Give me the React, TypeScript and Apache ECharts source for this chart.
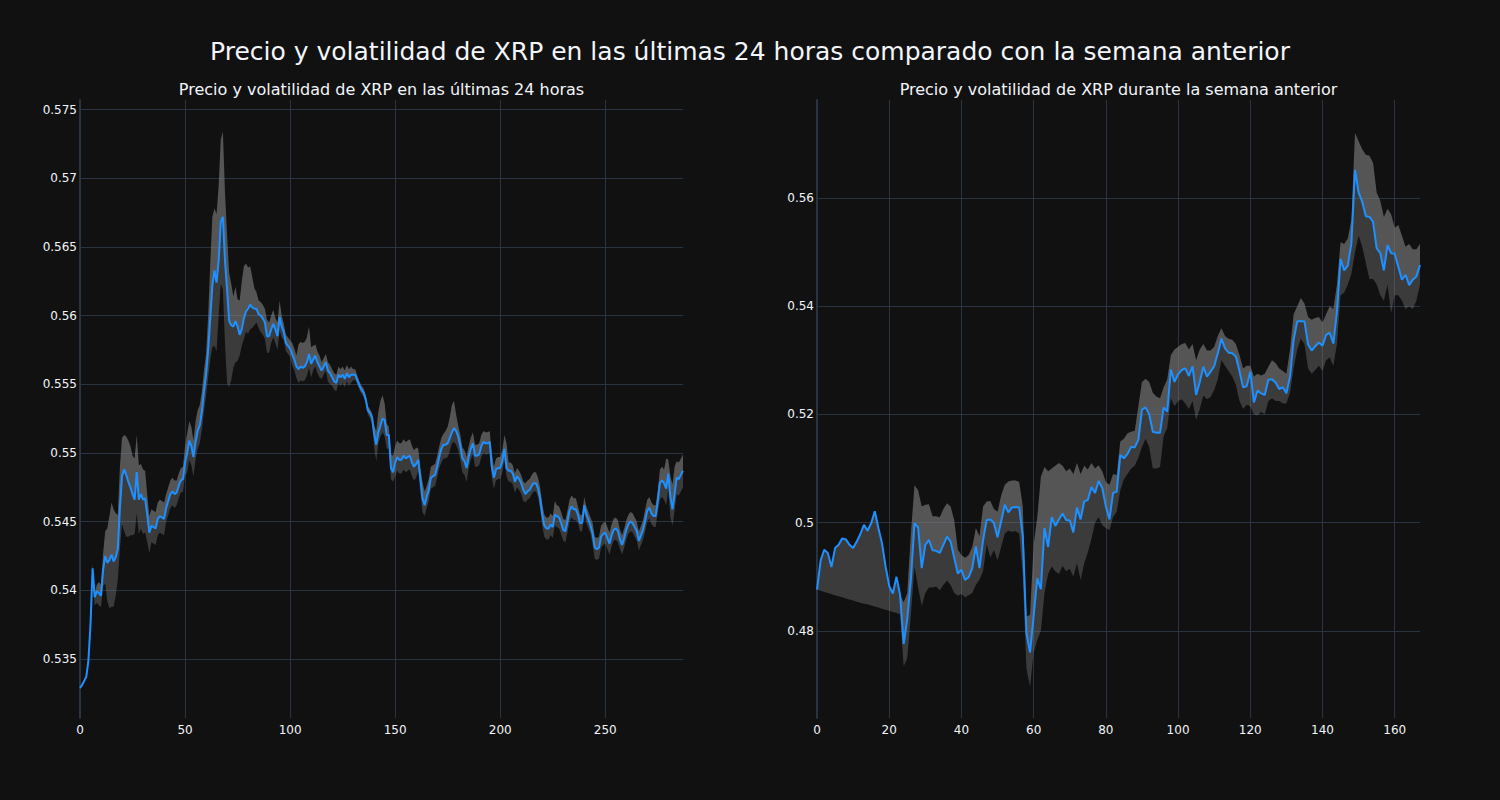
import React, { useEffect, useRef } from "react";
import * as echarts from "echarts";

const mainTitle = "Precio y volatilidad de XRP en las últimas 24 horas comparado con la semana anterior";
const leftTitle = "Precio y volatilidad de XRP en las últimas 24 horas";
const rightTitle = "Precio y volatilidad de XRP durante la semana anterior";

// Left panel: 5-minute prices (last 24 h)
const leftPrice = [
  0.5329, 0.5331, 0.5334, 0.5337, 0.5349, 0.5375, 0.5416, 0.5395, 0.5399, 0.5398,
  0.5396, 0.5415, 0.5425, 0.5420, 0.5422, 0.5426, 0.5421, 0.5424, 0.5430, 0.5460,
  0.5483, 0.5488, 0.5484, 0.5479, 0.5475, 0.5470, 0.5466, 0.5486, 0.5466, 0.5470,
  0.5466, 0.5467, 0.5455, 0.5442, 0.5447, 0.5446, 0.5445, 0.5452, 0.5454, 0.5453,
  0.5452, 0.5460, 0.5465, 0.5470, 0.5472, 0.5470, 0.5471, 0.5476, 0.5480, 0.5481,
  0.5493, 0.5500, 0.5509, 0.5505, 0.5497, 0.5508, 0.5516, 0.5520, 0.5530, 0.5545,
  0.5557, 0.5575, 0.5598, 0.5622, 0.5633, 0.5624, 0.5640, 0.5668, 0.5672, 0.5640,
  0.5619, 0.5596, 0.5593, 0.5592, 0.5596, 0.5592, 0.5586, 0.5590, 0.5598, 0.5603,
  0.5605, 0.5608, 0.5606, 0.5605, 0.5605, 0.5601, 0.5600, 0.5598, 0.5595, 0.5585,
  0.5585, 0.5590, 0.5594, 0.5590, 0.5585, 0.5599, 0.5592, 0.5588, 0.5580, 0.5578,
  0.5576, 0.5572, 0.5568, 0.5563, 0.5561, 0.5563, 0.5562, 0.5563, 0.5566, 0.5572,
  0.5565, 0.5568, 0.5571, 0.5566, 0.5563, 0.5560, 0.5563, 0.5566, 0.5560, 0.5558,
  0.5555, 0.5552, 0.5551, 0.5557, 0.5555, 0.5557, 0.5554, 0.5558, 0.5555, 0.5557,
  0.5557, 0.5557, 0.5553, 0.5549, 0.5546, 0.5544, 0.5539, 0.5531, 0.5529, 0.5526,
  0.5514, 0.5506, 0.5515, 0.5520, 0.5525, 0.5524, 0.5513, 0.5513, 0.5489, 0.5486,
  0.5493, 0.5497, 0.5495, 0.5495, 0.5498, 0.5496, 0.5497, 0.5498, 0.5493, 0.5490,
  0.5492, 0.5495, 0.5481, 0.5467, 0.5462, 0.5468, 0.5473, 0.5482, 0.5483, 0.5484,
  0.5490, 0.5497, 0.5503, 0.5506, 0.5506, 0.5507, 0.5511, 0.5515, 0.5518, 0.5516,
  0.5512, 0.5505, 0.5496, 0.5494, 0.5489, 0.5497, 0.5503, 0.5507, 0.5498, 0.5498,
  0.5499, 0.5505, 0.5508, 0.5507, 0.5507, 0.5508, 0.5490, 0.5482, 0.5488, 0.5489,
  0.5489, 0.5494, 0.5503, 0.5489, 0.5487, 0.5487, 0.5485, 0.5479, 0.5483, 0.5481,
  0.5478, 0.5473, 0.5470, 0.5472, 0.5473, 0.5476, 0.5478, 0.5478, 0.5474, 0.5467,
  0.5455, 0.5447, 0.5445, 0.5445, 0.5448, 0.5446, 0.5455, 0.5454, 0.5453, 0.5449,
  0.5444, 0.5443, 0.5450, 0.5458, 0.5461, 0.5459, 0.5459, 0.5455, 0.5449, 0.5449,
  0.5462, 0.5455, 0.5451, 0.5447, 0.5441, 0.5431, 0.5430, 0.5431, 0.5439, 0.5441,
  0.5442, 0.5438, 0.5434, 0.5440, 0.5444, 0.5445, 0.5443, 0.5437, 0.5433, 0.5438,
  0.5444, 0.5448, 0.5450, 0.5449, 0.5446, 0.5443, 0.5436, 0.5440, 0.5444, 0.5451,
  0.5458, 0.5460, 0.5456, 0.5454, 0.5454, 0.5465, 0.5478, 0.5480, 0.5478, 0.5474,
  0.5485, 0.5468, 0.5459, 0.5470, 0.5482, 0.5481, 0.5484, 0.5487,
];

// Left panel: volatility band above / below the price (units of 0.0001)
const leftBandUp = [
  1, 1, 1, 1, 2, 3, 3, 3, 5, 8,
  8, 12, 18, 25, 32, 38, 38, 32, 25, 30,
  28, 25, 28, 30, 30, 28, 30, 27, 25, 22,
  22, 20, 15, 12, 12, 12, 12, 12, 12, 12,
  12, 10, 10, 10, 10, 10, 9, 9, 9, 9,
  12, 14, 14, 14, 12, 15, 15, 15, 15, 15,
  15, 25, 40, 50, 45, 50, 55, 60, 62, 50,
  40, 35, 30, 22, 25, 20, 25, 35, 38, 35,
  30, 28, 22, 15, 12, 10, 10, 10, 10, 12,
  10, 10, 10, 8, 10, 12, 8, 6, 6, 6,
  6, 8, 8, 8, 18, 18, 18, 18, 18, 20,
  12, 10, 8, 8, 8, 6, 6, 6, 6, 6,
  6, 6, 6, 6, 6, 6, 6, 6, 6, 6,
  4, 4, 3, 3, 3, 3, 3, 3, 3, 3,
  6, 10, 15, 18, 17, 12, 8, 6, 10, 12,
  12, 12, 12, 12, 12, 12, 12, 12, 12, 12,
  12, 8, 8, 12, 10, 8, 8, 8, 8, 8,
  8, 8, 8, 8, 10, 12, 15, 20, 20, 12,
  8, 8, 8, 8, 8, 8, 8, 8, 8, 8,
  8, 8, 8, 8, 8, 8, 10, 8, 8, 8,
  8, 8, 10, 18, 6, 6, 6, 6, 6, 6,
  6, 6, 8, 8, 8, 8, 8, 8, 8, 8,
  8, 8, 8, 8, 8, 8, 10, 8, 8, 8,
  8, 8, 8, 8, 8, 8, 8, 6, 6, 6,
  6, 6, 6, 6, 8, 8, 8, 8, 8, 8,
  8, 8, 8, 8, 8, 8, 8, 7, 7, 7,
  7, 7, 7, 7, 7, 7, 7, 7, 7, 8,
  8, 8, 8, 8, 8, 8, 10, 10, 10, 22,
  10, 15, 18, 20, 12, 12, 12, 12,
];
const leftBandDown = [
  1, 1, 1, 1, 2, 4, 6, 6, 8, 9,
  8, 12, 20, 28, 35, 38, 33, 28, 22, 30,
  35, 45, 45, 40, 35, 30, 25, 30, 25, 25,
  25, 25, 20, 15, 12, 12, 12, 12, 12, 12,
  12, 10, 10, 10, 10, 10, 9, 9, 9, 9,
  10, 14, 14, 14, 14, 13, 13, 13, 13, 15,
  15, 20, 30, 45, 55, 50, 40, 45, 53, 60,
  68, 48, 40, 30, 30, 25, 15, 12, 15, 15,
  18, 18, 15, 12, 10, 10, 12, 12, 12, 12,
  12, 10, 10, 10, 10, 10, 8, 6, 6, 6,
  6, 8, 8, 8, 10, 10, 10, 10, 10, 10,
  10, 8, 8, 8, 8, 6, 6, 6, 8, 8,
  6, 6, 6, 6, 6, 6, 6, 6, 6, 6,
  4, 4, 3, 3, 3, 3, 3, 3, 4, 5,
  10, 12, 8, 8, 10, 12, 10, 10, 8, 7,
  10, 10, 10, 10, 10, 10, 10, 10, 10, 10,
  10, 8, 10, 10, 8, 8, 8, 8, 8, 8,
  8, 8, 10, 10, 10, 10, 10, 8, 10, 10,
  10, 10, 10, 10, 10, 8, 8, 8, 8, 8,
  8, 8, 8, 8, 8, 8, 8, 8, 8, 8,
  8, 8, 8, 6, 8, 8, 8, 8, 8, 8,
  8, 8, 6, 6, 6, 6, 6, 6, 6, 8,
  8, 8, 8, 8, 8, 8, 8, 8, 8, 8,
  8, 8, 8, 8, 8, 8, 8, 6, 6, 6,
  6, 6, 6, 6, 8, 8, 8, 8, 8, 8,
  8, 8, 8, 8, 8, 8, 8, 7, 7, 7,
  7, 7, 7, 7, 7, 7, 7, 7, 7, 8,
  8, 8, 8, 8, 8, 8, 12, 12, 12, 12,
  12, 15, 12, 12, 12, 12, 12, 12,
];

// Right panel: hourly prices (previous week)
const rightPrice = [
  0.4876, 0.4930, 0.4950, 0.4944, 0.4918, 0.4953, 0.4959, 0.4971, 0.4969, 0.4959,
  0.4953, 0.4965, 0.4979, 0.4996, 0.4985, 0.4999, 0.5021, 0.4990, 0.4962, 0.4919,
  0.4883, 0.4869, 0.4900, 0.4867, 0.4776, 0.4822, 0.4895, 0.4999, 0.4991, 0.4916,
  0.4959, 0.4968, 0.4949, 0.4948, 0.4944, 0.4959, 0.4974, 0.4965, 0.4935, 0.4906,
  0.4913, 0.4894, 0.4899, 0.4916, 0.4956, 0.4916, 0.4968, 0.5005, 0.5006, 0.4999,
  0.4973, 0.5002, 0.5033, 0.5019, 0.5028, 0.5029, 0.5028, 0.4974, 0.4796, 0.4760,
  0.4827, 0.4897, 0.4877, 0.4990, 0.4955, 0.5010, 0.4994, 0.5006, 0.5017, 0.5005,
  0.5004, 0.4982, 0.5028, 0.5006, 0.5039, 0.5042, 0.5066, 0.5055, 0.5077, 0.5064,
  0.5030, 0.5006, 0.5055, 0.5057, 0.5125, 0.5119, 0.5127, 0.5140, 0.5139, 0.5153,
  0.5209, 0.5213, 0.5200, 0.5168, 0.5166, 0.5166, 0.5213, 0.5205, 0.5283, 0.5260,
  0.5274, 0.5282, 0.5285, 0.5271, 0.5289, 0.5236, 0.5260, 0.5288, 0.5270, 0.5279,
  0.5289, 0.5313, 0.5340, 0.5322, 0.5314, 0.5313, 0.5307, 0.5280, 0.5250, 0.5252,
  0.5279, 0.5222, 0.5244, 0.5239, 0.5236, 0.5264, 0.5265, 0.5259, 0.5247, 0.5250,
  0.5239, 0.5270, 0.5338, 0.5372, 0.5372, 0.5372, 0.5329, 0.5318, 0.5326, 0.5333,
  0.5327, 0.5347, 0.5351, 0.5331, 0.5390, 0.5487, 0.5466, 0.5475, 0.5516, 0.5652,
  0.5610, 0.5593, 0.5566, 0.5565, 0.5556, 0.5507, 0.5498, 0.5466, 0.5513, 0.5498,
  0.5497, 0.5473, 0.5449, 0.5458, 0.5439, 0.5449, 0.5455, 0.5476,
];
const rightUpper = [
  0.4876, 0.4930, 0.4950, 0.4944, 0.4918, 0.4953, 0.4959, 0.4971, 0.4969, 0.4959,
  0.4953, 0.4965, 0.4979, 0.4996, 0.4985, 0.4999, 0.5021, 0.4990, 0.4962, 0.4919,
  0.4883, 0.4869, 0.4900, 0.4867, 0.4853, 0.4870, 0.4980, 0.5069, 0.5060, 0.5030,
  0.5033, 0.5034, 0.5012, 0.5012, 0.5010, 0.5025, 0.5036, 0.5030, 0.5005, 0.4950,
  0.4940, 0.4935, 0.4940, 0.4955, 0.4990, 0.4975, 0.5030, 0.5039, 0.5040, 0.5025,
  0.5020, 0.5050, 0.5070, 0.5076, 0.5078, 0.5078, 0.5075, 0.5030, 0.4826, 0.4830,
  0.4960, 0.5010, 0.5085, 0.5103, 0.5095, 0.5100, 0.5105, 0.5110, 0.5105, 0.5095,
  0.5100, 0.5090, 0.5110, 0.5090, 0.5105, 0.5098, 0.5110, 0.5100, 0.5106, 0.5095,
  0.5075, 0.5070, 0.5090, 0.5088, 0.5150, 0.5155, 0.5165, 0.5168, 0.5170, 0.5215,
  0.5260, 0.5266, 0.5260, 0.5240, 0.5233, 0.5230, 0.5250, 0.5265, 0.5310, 0.5320,
  0.5325, 0.5330, 0.5332, 0.5320, 0.5330, 0.5300, 0.5320, 0.5330, 0.5318, 0.5318,
  0.5325, 0.5345, 0.5359, 0.5345, 0.5340, 0.5338, 0.5330, 0.5310, 0.5285, 0.5290,
  0.5290, 0.5270, 0.5275, 0.5272, 0.5275, 0.5288, 0.5300, 0.5295, 0.5285, 0.5280,
  0.5275, 0.5320, 0.5385, 0.5400, 0.5415, 0.5405, 0.5380, 0.5375, 0.5378, 0.5380,
  0.5370, 0.5385, 0.5400, 0.5395, 0.5440, 0.5518, 0.5515, 0.5525, 0.5560, 0.5720,
  0.5705, 0.5690, 0.5680, 0.5678, 0.5665, 0.5610, 0.5595, 0.5565, 0.5580, 0.5570,
  0.5545, 0.5550, 0.5530, 0.5510, 0.5515, 0.5505, 0.5505, 0.5515,
];
const rightLower = [
  0.4876, 0.4874, 0.4872, 0.4870, 0.4868, 0.4866, 0.4864, 0.4862, 0.4860, 0.4858,
  0.4856, 0.4854, 0.4852, 0.4850, 0.4849, 0.4847, 0.4845, 0.4843, 0.4841, 0.4839,
  0.4837, 0.4835, 0.4833, 0.4831, 0.4734, 0.4750, 0.4830, 0.4919, 0.4880, 0.4846,
  0.4870, 0.4880, 0.4880, 0.4882, 0.4875, 0.4885, 0.4893, 0.4885, 0.4870, 0.4865,
  0.4868, 0.4862, 0.4866, 0.4870, 0.4885, 0.4895, 0.4910, 0.4960, 0.4935, 0.4950,
  0.4930, 0.4955, 0.4980, 0.4985, 0.4983, 0.4984, 0.4980, 0.4900, 0.4730, 0.4697,
  0.4760, 0.4783, 0.4800, 0.4870, 0.4905, 0.4919, 0.4910, 0.4905, 0.4920, 0.4910,
  0.4915, 0.4900, 0.4925, 0.4894, 0.4925, 0.4945, 0.4970, 0.5000, 0.5010, 0.4995,
  0.4990, 0.4986, 0.5010, 0.5020, 0.5060, 0.5080, 0.5090, 0.5100, 0.5105, 0.5120,
  0.5140, 0.5155, 0.5140, 0.5100, 0.5100, 0.5103, 0.5160, 0.5175, 0.5230, 0.5215,
  0.5225, 0.5228, 0.5220, 0.5210, 0.5225, 0.5190, 0.5210, 0.5235, 0.5228, 0.5232,
  0.5245, 0.5265, 0.5300, 0.5290, 0.5280, 0.5270, 0.5255, 0.5225, 0.5210, 0.5218,
  0.5215, 0.5200, 0.5198, 0.5205, 0.5200, 0.5225, 0.5230, 0.5225, 0.5225, 0.5220,
  0.5220, 0.5240, 0.5285, 0.5320, 0.5340, 0.5330, 0.5285, 0.5275, 0.5282, 0.5290,
  0.5280, 0.5300, 0.5305, 0.5290, 0.5330, 0.5420, 0.5425, 0.5440, 0.5460, 0.5500,
  0.5530, 0.5510, 0.5480, 0.5450, 0.5450, 0.5440, 0.5420, 0.5410, 0.5440, 0.5387,
  0.5420, 0.5420, 0.5410, 0.5395, 0.5400, 0.5395, 0.5410, 0.5440,
];

const BG = "#111111";
const GRID = "#283442";
const TXT = "#f2f5fa";
const LINE = "#1e90ff";
const BAND_HI = "rgba(128,128,128,0.62)";
const BAND_LO = "rgba(128,128,128,0.38)";
const FONT = "DejaVu Sans";

function r6(v: number) {
  return Math.round(v * 1e6) / 1e6;
}

function bandSeries(
  idx: number,
  price: number[],
  upper: number[],
  lower: number[],
  key: string
) {
  const base = {
    type: "line" as const,
    xAxisIndex: idx,
    yAxisIndex: idx,
    stack: key,
    symbol: "none",
    silent: true,
    lineStyle: { width: 0, opacity: 0 },
  };
  return [
    { ...base, data: lower.map((v) => r6(v)) },
    {
      ...base,
      data: price.map((p, i) => r6(Math.max(0, p - lower[i]))),
      areaStyle: { color: BAND_LO, opacity: 1 },
    },
    {
      ...base,
      data: price.map((p, i) => r6(Math.max(0, upper[i] - p))),
      areaStyle: { color: BAND_HI, opacity: 1 },
    },
  ];
}

export default function App() {
  const ref = useRef<HTMLDivElement>(null);
  useEffect(() => {
    document.body.style.margin = "0";
    document.body.style.background = BG;
    const chart = echarts.init(ref.current!, null, { renderer: "svg" });

    const leftUpper = leftPrice.map((p, i) => p + leftBandUp[i] * 1e-4);
    const leftLower = leftPrice.map((p, i) => p - leftBandDown[i] * 1e-4);
    const leftCats = leftPrice.map((_, i) => String(i));
    const rightCats = rightPrice.map((_, i) => String(i));

    const xAxisCommon = {
      type: "category" as const,
      boundaryGap: false,
      axisLine: { show: false },
      axisTick: { show: false },
      axisLabel: { color: TXT, fontSize: 12, fontFamily: FONT, margin: 6 },
      splitLine: { show: true, lineStyle: { color: GRID, width: 1 } },
    };
    const yAxisCommon = {
      type: "value" as const,
      axisLine: { show: true, lineStyle: { color: GRID, width: 2 } },
      axisTick: { show: false },
      axisLabel: {
        color: TXT,
        fontSize: 12,
        fontFamily: FONT,
        margin: 3,
        showMinLabel: false,
        showMaxLabel: false,
      },
      splitLine: {
        show: true,
        showMinLine: false,
        showMaxLine: false,
        lineStyle: { color: GRID, width: 1 },
      },
    };

    chart.setOption({
      animation: false,
      backgroundColor: BG,
      textStyle: { fontFamily: FONT },
      title: [
        {
          text: mainTitle,
          left: "center",
          top: 34,
          textStyle: { color: TXT, fontSize: 25, fontWeight: "normal", fontFamily: FONT },
        },
        {
          text: leftTitle,
          left: 376.5,
          textAlign: "center",
          top: 76,
          textStyle: { color: TXT, fontSize: 16, fontWeight: "normal", fontFamily: FONT },
        },
        {
          text: rightTitle,
          left: 1113.5,
          textAlign: "center",
          top: 76,
          textStyle: { color: TXT, fontSize: 16, fontWeight: "normal", fontFamily: FONT },
        },
      ],
      grid: [
        { left: 80, top: 100, width: 603, height: 618, containLabel: false },
        { left: 817, top: 100, width: 603, height: 618, containLabel: false },
      ],
      xAxis: [
        {
          ...xAxisCommon,
          gridIndex: 0,
          data: leftCats,
          axisLabel: { ...xAxisCommon.axisLabel, interval: 49 },
          splitLine: { ...xAxisCommon.splitLine, interval: 49 },
        },
        {
          ...xAxisCommon,
          gridIndex: 1,
          data: rightCats,
          axisLabel: { ...xAxisCommon.axisLabel, interval: 19 },
          splitLine: { ...xAxisCommon.splitLine, interval: 19 },
        },
      ],
      yAxis: [
        {
          ...yAxisCommon,
          gridIndex: 0,
          min: 0.5307,
          max: 0.5757,
          splitNumber: 9,
          minInterval: 0.005,
          maxInterval: 0.005,
        },
        {
          ...yAxisCommon,
          gridIndex: 1,
          min: 0.4639,
          max: 0.5781,
          splitNumber: 6,
          minInterval: 0.02,
          maxInterval: 0.02,
        },
      ],
      series: [
        ...bandSeries(0, leftPrice, leftUpper, leftLower, "bandL"),
        {
          type: "line",
          xAxisIndex: 0,
          yAxisIndex: 0,
          data: leftPrice,
          symbol: "none",
          z: 5,
          lineStyle: { color: LINE, width: 2 },
        },
        ...bandSeries(1, rightPrice, rightUpper, rightLower, "bandR"),
        {
          type: "line",
          xAxisIndex: 1,
          yAxisIndex: 1,
          data: rightPrice,
          symbol: "none",
          z: 5,
          lineStyle: { color: LINE, width: 2 },
        },
      ],
    });

    return () => chart.dispose();
  }, []);
  return <div ref={ref} style={{ width: 1500, height: 800 }} />;
}
